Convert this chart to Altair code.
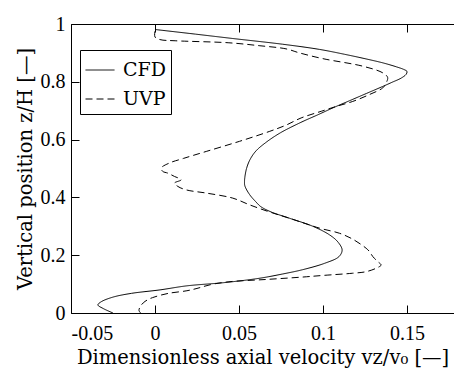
import altair as alt
import pandas as pd

# ---- data ----
series_names = ["CFD", "UVP"]

cfd_z = [0.981, 0.965, 0.950, 0.930, 0.912, 0.895, 0.880, 0.865, 0.852, 0.843, 0.836,
         0.826, 0.813, 0.798, 0.784, 0.760, 0.735, 0.710, 0.686, 0.660, 0.623, 0.590,
         0.560, 0.530, 0.500, 0.470, 0.455, 0.440, 0.410, 0.385, 0.368, 0.350, 0.328,
         0.300, 0.270, 0.245, 0.218, 0.195, 0.172, 0.150, 0.135, 0.120, 0.105, 0.094,
         0.080, 0.068, 0.055, 0.039, 0.028, 0.016, 0.000]
cfd_v = [0.000, 0.024, 0.046, 0.076, 0.098, 0.113, 0.125, 0.136, 0.1436, 0.148, 0.150,
         0.1495, 0.1466, 0.141, 0.1356, 0.126, 0.116, 0.106, 0.097, 0.087, 0.0745, 0.0660,
         0.060, 0.0565, 0.0545, 0.0535, 0.0533, 0.0535, 0.0563, 0.060, 0.063, 0.069, 0.080,
         0.094, 0.104, 0.109, 0.1114, 0.1095, 0.101, 0.088, 0.076, 0.062, 0.041, 0.019,
         0.003, -0.014, -0.025, -0.032, -0.034, -0.031, -0.025]

uvp_z = [0.975, 0.955, 0.946, 0.942, 0.935, 0.925, 0.914, 0.900, 0.880, 0.854, 0.831,
         0.815, 0.796, 0.779, 0.756, 0.732, 0.715, 0.698, 0.675, 0.650, 0.628, 0.594,
         0.559, 0.535, 0.519, 0.5015, 0.490, 0.484, 0.4725, 0.461, 0.4495, 0.438, 0.426,
         0.415, 0.3975, 0.3743, 0.350, 0.328, 0.2935, 0.276, 0.2555, 0.224, 0.2125, 0.195,
         0.178, 0.166, 0.155, 0.143, 0.1376, 0.130, 0.124, 0.116, 0.108, 0.098, 0.085,
         0.077, 0.068, 0.056, 0.047, 0.035, 0.020, 0.008, 0.000]
uvp_v = [0.000, 0.000, 0.003, 0.012, 0.044, 0.062, 0.078, 0.086, 0.100, 0.1237, 0.1356,
         0.1385, 0.1376, 0.1356, 0.1277, 0.1177, 0.108, 0.099, 0.087, 0.078, 0.068, 0.0503,
         0.0305, 0.017, 0.0086, 0.0037, 0.0046, 0.0076, 0.0116, 0.0156, 0.0116, 0.0136, 0.0186,
         0.0305, 0.0463, 0.0563, 0.068, 0.080, 0.098, 0.1098, 0.1177, 0.1257, 0.1277, 0.1297,
         0.1326, 0.1346, 0.1317, 0.1257, 0.1177, 0.100, 0.087, 0.066, 0.044, 0.033, 0.025,
         0.019, 0.008, 0.000, -0.004, -0.007, -0.009, -0.0095, -0.0085]

x_ticks = [-0.05, 0, 0.05, 0.1, 0.15]
y_ticks = [0, 0.2, 0.4, 0.6, 0.8, 1]

rows = []
for name, zs, vs in [("CFD", cfd_z, cfd_v), ("UVP", uvp_z, uvp_v)]:
    for i, (z, v) in enumerate(zip(zs, vs)):
        rows.append({"series": name, "i": i, "z": z, "v": v})
df = pd.DataFrame(rows)

TICK_FONT = "Liberation Serif"
TITLE_FONT = "DejaVu Serif"
xscale = alt.Scale(domain=[-0.05, 0.178], nice=False, zero=False)
yscale = alt.Scale(domain=[0, 1], nice=False, zero=False)

base = alt.Chart(df)

lines = base.mark_line(color="black", strokeWidth=1, interpolate="catmull-rom").encode(
    x=alt.X("v:Q", scale=xscale,
            title="Dimensionless axial velocity vz/v₀ [—]",
            axis=alt.Axis(orient="bottom", offset=-8, domain=False, tickSize=8,
                          values=x_ticks, labelExpr="'' + datum.value",
                          labelPadding=10, titlePadding=5, grid=False)),
    y=alt.Y("z:Q", scale=yscale,
            title="Vertical position z/H [—]",
            axis=alt.Axis(orient="left", offset=-8, domain=False, tickSize=8,
                          values=y_ticks, labelExpr="'' + datum.value",
                          labelPadding=6, titlePadding=5, grid=False)),
    strokeDash=alt.StrokeDash(
        "series:N",
        scale=alt.Scale(domain=series_names, range=[[1, 0], [7, 4]]),
        legend=alt.Legend(title=None, orient="none", legendX=9, legendY=26,
                          symbolType="stroke", symbolStrokeColor="black",
                          symbolStrokeWidth=1, symbolSize=841,
                          labelFont=TITLE_FONT, labelFontSize=19, labelColor="black",
                          labelOffset=8, strokeColor="black", fillColor="white",
                          padding=5, rowPadding=4),
    ),
    order="i:Q",
)

frame_bl = base.mark_line(opacity=0).encode(
    x=alt.X("v:Q", scale=xscale, title=None,
            axis=alt.Axis(orient="bottom", domain=True, ticks=False, labels=False, grid=False)),
    y=alt.Y("z:Q", scale=yscale, title=None,
            axis=alt.Axis(orient="left", domain=True, ticks=False, labels=False, grid=False)),
    detail="series:N",
)

top_ticks = base.mark_line(opacity=0).encode(
    x=alt.X("v:Q", scale=xscale, title=None,
            axis=alt.Axis(orient="top", offset=-8, domain=False, tickSize=8,
                          values=x_ticks, labels=False, grid=False)),
    y=alt.Y("z:Q", scale=yscale, axis=None),
    detail="series:N",
)

top_domain = base.mark_line(opacity=0).encode(
    x=alt.X("v:Q", scale=xscale, title=None,
            axis=alt.Axis(orient="top", domain=True, ticks=False, labels=False, grid=False)),
    y=alt.Y("z:Q", scale=yscale, axis=None),
    detail="series:N",
)

chart = alt.layer(lines, frame_bl, top_ticks, top_domain).resolve_axis(
    x="independent", y="independent"
).properties(
    width=383, height=289,
    padding={"left": 71, "top": 24, "right": 0, "bottom": 55},
    autosize=alt.AutoSizeParams(type="none"),
    background="white",
).configure_view(stroke=None).configure_axis(
    domainColor="black", tickColor="black", domainWidth=1, tickWidth=1,
    labelColor="black", titleColor="black",
    labelFont=TICK_FONT, titleFont=TITLE_FONT, labelFontSize=20, titleFontSize=19.5,
    titleFontWeight="normal",
).configure_legend(labelFont=TITLE_FONT, labelFontSize=19)

chart.save("out.html", embed_options={"renderer": "svg", "actions": False})
